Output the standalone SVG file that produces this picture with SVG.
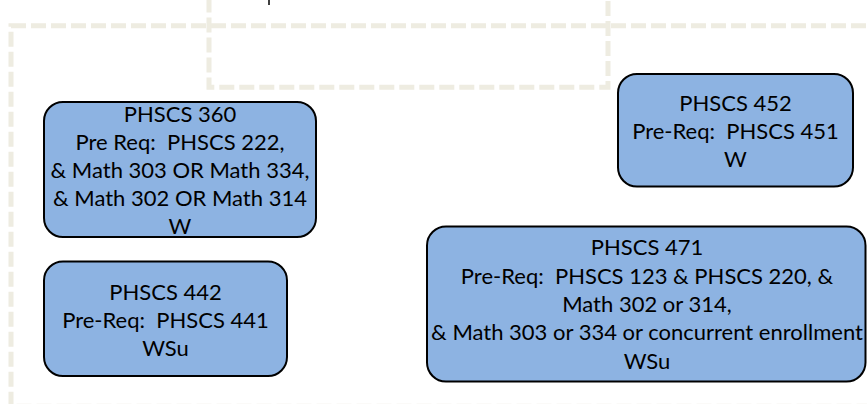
<svg xmlns="http://www.w3.org/2000/svg" width="867" height="404" viewBox="0 0 867 404">
<style>
.frame{fill:none;stroke:#EEECE1;stroke-width:5;stroke-dasharray:15 5}
.box{fill:#8DB3E2;stroke:#000;stroke-width:2}
.t{font-family:Lato,"Liberation Sans",sans-serif;font-size:22px;fill:#000;text-anchor:middle;white-space:pre}
</style>
<rect width="867" height="404" fill="#fff"/>
<g id="frames">
<rect class="frame" x="11" y="25.7" width="900" height="380.5"/>
<rect class="frame" x="209" y="-60" width="399" height="147.3"/>
<line x1="269" y1="0" x2="269" y2="5" stroke="#000" stroke-width="1.5"/>
</g>
<g id="connectors"></g>
<g id="n360">
<rect class="box" x="44" y="102" width="272" height="135" rx="19"/>
<text class="t" x="180" y="121.5">PHSCS 360</text>
<text class="t" x="180" y="149.5" xml:space="preserve">Pre Req:  PHSCS 222,</text>
<text class="t" x="180" y="177.5">&amp; Math 303 OR Math 334,</text>
<text class="t" x="180" y="205.5">&amp; Math 302 OR Math 314</text>
<text class="t" x="180" y="233.5">W</text>
</g>
<g id="n452">
<rect class="box" x="618" y="74" width="235" height="112.5" rx="19"/>
<text class="t" x="735.5" y="110.5">PHSCS 452</text>
<text class="t" x="735.5" y="138.5" xml:space="preserve">Pre-Req:  PHSCS 451</text>
<text class="t" x="735.5" y="166.5">W</text>
</g>
<g id="n442">
<rect class="box" x="44" y="261.5" width="243" height="114.5" rx="19"/>
<text class="t" x="165.5" y="299.5">PHSCS 442</text>
<text class="t" x="165.5" y="327.5" xml:space="preserve">Pre-Req:  PHSCS 441</text>
<text class="t" x="165.5" y="355.5">WSu</text>
</g>
<g id="n471">
<rect class="box" x="427" y="226.5" width="438.5" height="155" rx="19"/>
<text class="t" x="647" y="255">PHSCS 471</text>
<text class="t" x="647" y="283.5" xml:space="preserve">Pre-Req:  PHSCS 123 &amp; PHSCS 220, &amp;</text>
<text class="t" x="647" y="311.5">Math 302 or 314,</text>
<text class="t" x="647" y="340">&amp; Math 303 or 334 or concurrent enrollment</text>
<text class="t" x="647" y="368.5">WSu</text>
</g>
</svg>
